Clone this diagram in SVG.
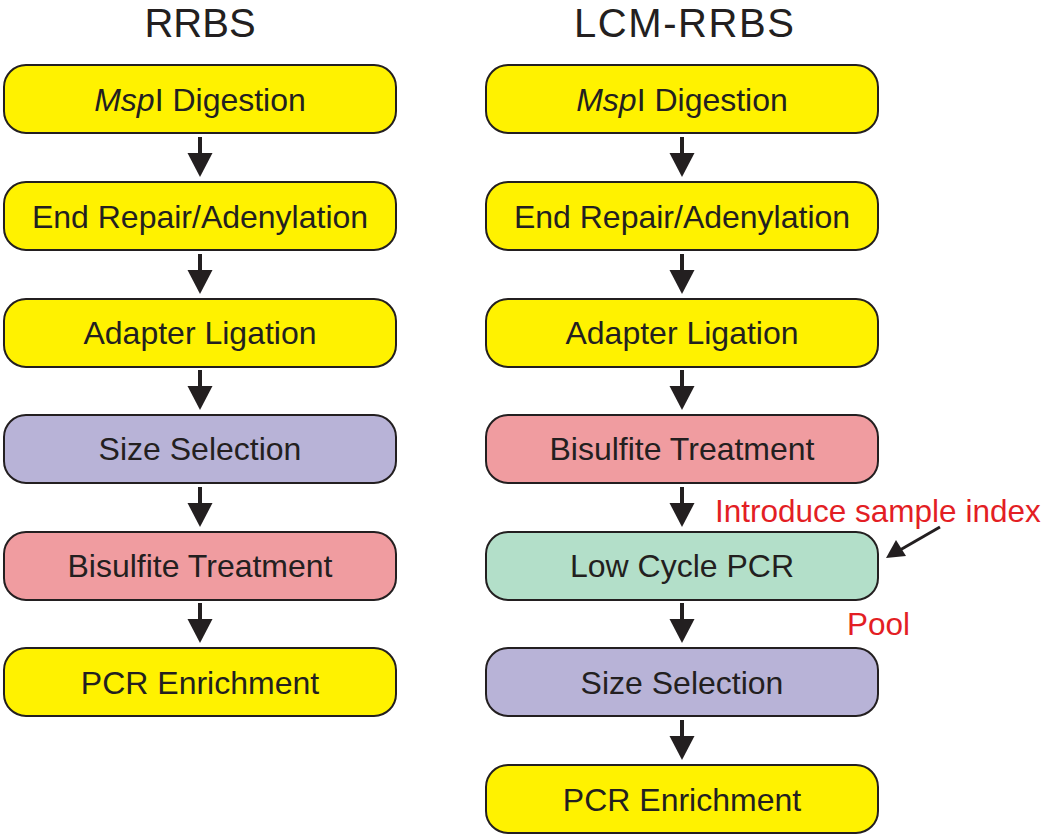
<svg xmlns="http://www.w3.org/2000/svg" width="1050" height="836" viewBox="0 0 1050 836">
<defs>
<style>
.box{stroke:#231f20;stroke-width:2}
.y{fill:#fff200}.p{fill:#b8b3d7}.r{fill:#f09ca0}.g{fill:#b3dfc9}
.t{font-family:"Liberation Sans",Arial,sans-serif;font-size:32px;fill:#231f20;text-anchor:middle}
.h{font-family:"Liberation Sans",Arial,sans-serif;font-size:40px;fill:#231f20;text-anchor:middle}
.red{font-family:"Liberation Sans",Arial,sans-serif;font-size:31.5px;fill:#e31e24}
.sh{stroke:#231f20;stroke-width:4}
.hd{fill:#231f20}
</style>
<g id="arr"><line class="sh" x1="0" y1="0" x2="0" y2="18"/><polygon class="hd" points="-12.5,16 12.5,16 0,40"/></g>
</defs>
<rect width="1050" height="836" fill="#fff"/>
<text class="h" x="200" y="37">RRBS</text>
<text class="h" x="684" y="37" textLength="220">LCM-RRBS</text>

<g id="l1"><rect class="box y" x="4" y="65" width="392" height="68" rx="22"/><text class="t" x="200" y="111"><tspan font-style="italic">Msp</tspan>I Digestion</text></g>
<g id="l2"><rect class="box y" x="4" y="182" width="392" height="68" rx="22"/><text class="t" x="200" y="228">End Repair/Adenylation</text></g>
<g id="l3"><rect class="box y" x="4" y="299" width="392" height="68" rx="22"/><text class="t" x="200" y="344">Adapter Ligation</text></g>
<g id="l4"><rect class="box p" x="4" y="415" width="392" height="68" rx="22"/><text class="t" x="200" y="460">Size Selection</text></g>
<g id="l5"><rect class="box r" x="4" y="532" width="392" height="68" rx="22"/><text class="t" x="200" y="577">Bisulfite Treatment</text></g>
<g id="l6"><rect class="box y" x="4" y="648" width="392" height="68" rx="22"/><text class="t" x="200" y="694">PCR Enrichment</text></g>

<g id="r1"><rect class="box y" x="486" y="65" width="392" height="68" rx="22"/><text class="t" x="682" y="111"><tspan font-style="italic">Msp</tspan>I Digestion</text></g>
<g id="r2"><rect class="box y" x="486" y="182" width="392" height="68" rx="22"/><text class="t" x="682" y="228">End Repair/Adenylation</text></g>
<g id="r3"><rect class="box y" x="486" y="299" width="392" height="68" rx="22"/><text class="t" x="682" y="344">Adapter Ligation</text></g>
<g id="r4"><rect class="box r" x="486" y="415" width="392" height="68" rx="22"/><text class="t" x="682" y="460">Bisulfite Treatment</text></g>
<g id="r5"><rect class="box g" x="486" y="532" width="392" height="68" rx="22"/><text class="t" x="682" y="577">Low Cycle PCR</text></g>
<g id="r6"><rect class="box p" x="486" y="648" width="392" height="68" rx="22"/><text class="t" x="682" y="694">Size Selection</text></g>
<g id="r7"><rect class="box y" x="486" y="765" width="392" height="68" rx="22"/><text class="t" x="682" y="811">PCR Enrichment</text></g>

<g id="connectors">
<use href="#arr" x="200" y="137"/>
<use href="#arr" x="200" y="254"/>
<use href="#arr" x="200" y="370"/>
<use href="#arr" x="200" y="487"/>
<use href="#arr" x="200" y="603"/>
<use href="#arr" x="682" y="137"/>
<use href="#arr" x="682" y="254"/>
<use href="#arr" x="682" y="370"/>
<use href="#arr" x="682" y="487"/>
<use href="#arr" x="682" y="603"/>
<use href="#arr" x="682" y="720"/>
<line x1="940" y1="527" x2="900" y2="550" stroke="#231f20" stroke-width="3"/>
<polygon class="hd" points="886,558 896,540 906,556"/>
</g>
<text class="red" x="715" y="522">Introduce sample index</text>
<text class="red" x="847" y="635">Pool</text>
</svg>
